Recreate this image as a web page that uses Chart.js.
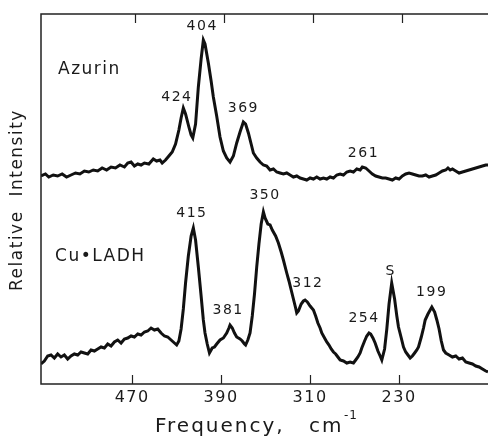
<!DOCTYPE html>
<html><head><meta charset="utf-8">
<script src="https://cdn.jsdelivr.net/npm/chart.js@4/dist/chart.umd.min.js"></script>
<style>html,body{margin:0;padding:0;background:#fff}#wrap{width:488px;height:437px}</style>
</head><body><div id="wrap"><canvas id="c" width="488" height="437"></canvas></div>
<script>
// Frequencies (cm-1) and relative intensities (arbitrary units)
const azurinFreq = [552,548,545,541,537,533,529,525,521,517,513,509,505,501,497,493,489,485,481,477,474,471,468,465,462,459,455,451,448,445,443,440,437,434,431,428,426,424,422,419,417,415.5,413,410.5,408,406,404.5,401.5,399,397,394,391,388,385,382,379,376,373,370,368,365.5,363,361,358,355,352,349,346,343,340,337,334,331,328,325,322,319,316,313,310,307,304,301,298,295,292,289,286,283,280,277,274,271,268,265,263,260,257,254,251,248,245,242,239,236,233,230,227,224,221,218,215,212,209,206,203,200,197,194,191,188,186,184,182,179,176,173,170,167,164,161,158,155,152,150];
const azurinInt = [208,210,207,209,208,210,207,209,211,210,213,212,214,213,216,214,217,216,219,217,221,222,218,220,219,221,220,225,223,224,221,224,228,232,240,254,266,276,270,257,249,246,260,297,325,344,340,321,303,287,268,247,233,226,222,228,241,252,262,260,251,240,231,226,222,219,218,214,215,212,211,210,211,209,207,208,206,205,204,206,205,207,205,206,205,207,206,209,210,209,212,213,212,215,214,217,216,213,210,208,207,206,206,205,204,206,205,208,210,211,210,209,208,208,209,207,208,209,211,213,214,216,214,215,213,211,212,213,214,215,216,217,218,219,219];
const ladhFreq = [552,549,546,543,540,537,534,531,528,525,522,519,516,513,510,507,504,501,498,495,492,489,486,483,480,477,474,471,468,465,462,459,456,453,450,447,444,441,438,435,432,430,428,426,424,422,419.5,417,415,413,410.5,408,406,404.5,402.5,400.5,398,396,394,391,388,385,383,382,380,378,376,373,371,369,368,366,364,362,360,358,356,354,352,350.5,348,346,344,341,338.5,336,334,331,329,327,325,323,322,320.5,318,316,314.5,312.5,310,307,305,303,301,299.5,297,295,293,291,289,287,285,283,280,277,274,271,269,267,265,263.5,261,259,257,255.5,253.5,251.5,249,247,245.5,243,241,239,236.6,234,232,230.5,228,226,224,222,220,218,216,214,212.5,210,208,206.5,204,202,200.5,198,196,194,192,190,188,185,182,179,176,173,170,167,164,161,158,155,152,150];
const ladhInt = [20,23,28,29,26,30,27,29,25,28,30,29,32,31,30,34,33,35,37,36,40,38,42,44,41,45,46,48,47,50,49,52,53,56,54,55,51,48,47,44,41,39,43,55,75,101,128,148,156,144,117,88,64,51,40,31,36,37,40,44,46,51,56,59,56,51,47,45,43,40,39,44,51,68,90,117,140,160,172,166,160,159,154,148,141,132,124,111,103,94,85,76,71,73,80,83,84,82,78,74,68,61,56,51,46,42,39,35,32,30,27,24,23,21,22,21,24,27,31,36,43,48,51,50,46,41,33,28,24,35,55,80,101,85,68,57,46,37,32,29,26,28,31,34,37,47,56,64,70,74,77,72,64,55,43,34,31,29,27,28,25,26,22,21,20,18,17,15,13,12];
const tickValues = [470, 390, 310, 230];
const peakLabels = ["404","424","369","261","415","350","381","312","254","S","199"];
const peakLabelFreq = [407,429.8,370,262,416.3,350.5,383.7,312,261.5,237.4,200.6];
const peakLabelInt = [358,287,276,231,171,189,74,101,66,113,92];
const seriesNames = ["Azurin","Cu\u2022LADH"];
const seriesNameFreq = [536.7,539.4];
const seriesNameInt = [314,127];

const toPts = (xs, ys) => xs.map((x, i) => ({x: x, y: ys[i]}));

const deco = {
  id: 'deco',
  afterDraw(chart) {
    const ctx = chart.ctx, a = chart.chartArea;
    const xs = chart.scales.x, ys = chart.scales.y;
    ctx.save();
    ctx.strokeStyle = '#222'; ctx.lineWidth = 1.5;
    ctx.beginPath();
    ctx.moveTo(a.right, a.top); ctx.lineTo(a.left, a.top); ctx.lineTo(a.left, a.bottom); ctx.lineTo(a.right, a.bottom);
    ctx.stroke();
    ctx.lineWidth = 1.2;
    tickValues.forEach(v => {
      const px = Math.round(xs.getPixelForValue(v)) + 0.5;
      ctx.beginPath(); ctx.moveTo(px, a.bottom); ctx.lineTo(px, a.bottom - 9); ctx.stroke();
      ctx.beginPath(); ctx.moveTo(px + 3, a.top); ctx.lineTo(px + 3, a.top + 9); ctx.stroke();
    });
    ctx.fillStyle = '#1a1a1a';
    ctx.textAlign = 'center'; ctx.textBaseline = 'middle';
    ctx.font = '16px "DejaVu Sans"';
    ctx.letterSpacing = '1.5px';
    tickValues.forEach(v => ctx.fillText(String(v), xs.getPixelForValue(v), 398));
    // x title
    ctx.font = '20px "DejaVu Sans"';
    ctx.letterSpacing = '2px';
    ctx.textAlign = 'left';
    ctx.fillText('Frequency,', 155, 427);
    ctx.fillText('cm', 309, 427);
    ctx.font = '12px "DejaVu Sans"';
    ctx.letterSpacing = '1px';
    ctx.fillText('-1', 344, 416);
    // y title
    ctx.save();
    ctx.translate(18, 200); ctx.rotate(-Math.PI / 2);
    ctx.textAlign = 'center';
    ctx.font = '17px "DejaVu Sans"';
    ctx.letterSpacing = '1.5px';
    ctx.fillText('Relative  Intensity', 0, 0);
    ctx.restore();
    // peak labels
    ctx.textAlign = 'center';
    ctx.font = '14px "DejaVu Sans"';
    ctx.letterSpacing = '1.5px';
    peakLabels.forEach((t, i) => ctx.fillText(t, xs.getPixelForValue(peakLabelFreq[i]), ys.getPixelForValue(peakLabelInt[i])));
    ctx.textAlign = 'left';
    ctx.font = '17px "DejaVu Sans"';
    ctx.letterSpacing = '1.5px';
    seriesNames.forEach((t, i) => ctx.fillText(t, xs.getPixelForValue(seriesNameFreq[i]), ys.getPixelForValue(seriesNameInt[i])));
    ctx.restore();
  }
};

new Chart(document.getElementById('c'), {
  type: 'line',
  data: {
    datasets: [
      {label: seriesNames[0], data: toPts(azurinFreq, azurinInt), borderColor: '#111', borderWidth: 3, pointRadius: 0, tension: 0},
      {label: seriesNames[1], data: toPts(ladhFreq, ladhInt), borderColor: '#111', borderWidth: 3, pointRadius: 0, tension: 0}
    ]
  },
  options: {
    responsive: false, animation: false, devicePixelRatio: 1,
    layout: {padding: {left: 41, right: 0, top: 14, bottom: 53}},
    plugins: {legend: {display: false}, tooltip: {enabled: false}},
    scales: {
      x: {type: 'linear', min: 150, max: 552, reverse: true, display: false},
      y: {type: 'linear', min: 0, max: 370, display: false}
    }
  },
  plugins: [deco]
});
</script>
</body></html>
